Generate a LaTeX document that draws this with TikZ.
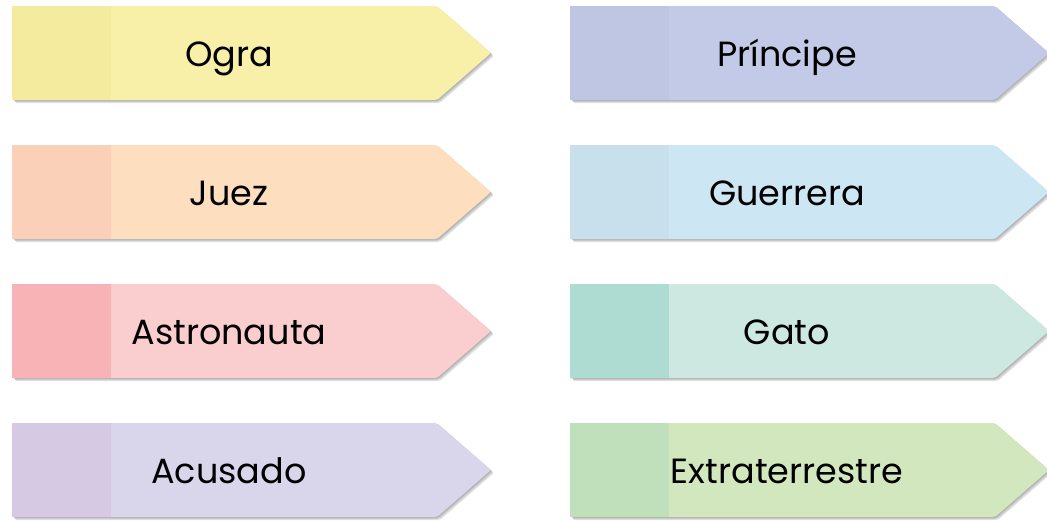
\documentclass[tikz,border=0pt]{standalone}
\usepackage{fontspec}
\setmainfont{Poppins}
\usetikzlibrary{calc}
\definecolor{ograbg}{HTML}{F8F0A8}
\definecolor{ogratab}{HTML}{F5EB9F}
\definecolor{juezbg}{HTML}{FDDFBF}
\definecolor{jueztab}{HTML}{FBD0B8}
\definecolor{astronautabg}{HTML}{FACDCF}
\definecolor{astronautatab}{HTML}{F7B3B5}
\definecolor{acusadobg}{HTML}{D9D6EC}
\definecolor{acusadotab}{HTML}{D6C9E3}
\definecolor{principebg}{HTML}{C2CAE8}
\definecolor{principetab}{HTML}{BEC6E3}
\definecolor{guerrerabg}{HTML}{CDE6F3}
\definecolor{guerreratab}{HTML}{C7E0EC}
\definecolor{gatobg}{HTML}{CDE8E0}
\definecolor{gatotab}{HTML}{AEDCD3}
\definecolor{extraterrestrebg}{HTML}{D2E7BD}
\definecolor{extraterrestretab}{HTML}{C0E0BC}
\tikzset{
 tagshadow/.style={black, opacity=.11},
 lbl/.style={font=\fontsize{35}{40}\selectfont, text=black, inner sep=0, anchor=base}
}

\begin{document}
\begin{tikzpicture}[x=1pt,y=-1pt]
\useasboundingbox (0,0) rectangle (1047,520);
\foreach \c/\r/\name/\txt in {0/0/ogra/Ogra, 0/1/juez/Juez, 0/2/astronauta/Astronauta, 0/3/acusado/Acusado,
 1/0/principe/Príncipe, 1/1/guerrera/Guerrera, 1/2/gato/Gato, 1/3/extraterrestre/Extraterrestre} {
 \begin{scope}[shift={(558*\c,139*\r)}]
 \foreach \d in {1,2,3}
  \fill[tagshadow, rounded corners=2pt] (12+\d,6+\d) -- (437+\d,6+\d) -- (491+\d,53+\d) -- (437+\d,100+\d) -- (12+\d,100+\d) -- cycle;
 \fill[\name bg, rounded corners=2pt] (12,6) -- (437,6) -- (491,53) -- (437,100) -- (12,100) -- cycle;
 \fill[\name tab] (12,6) rectangle (111,100);
 \node[lbl] (\name) at (229,66) {\txt};
 \end{scope}
}
\end{tikzpicture}
\end{document}
